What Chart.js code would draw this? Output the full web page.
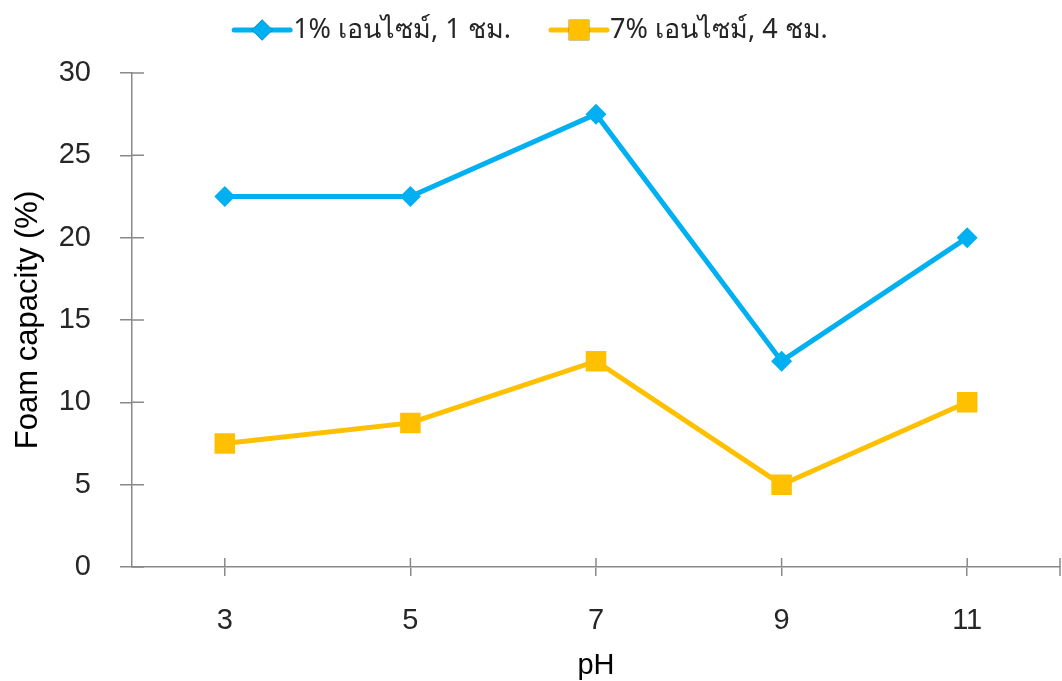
<!DOCTYPE html>
<html>
<head>
<meta charset="utf-8">
<script src="https://cdn.jsdelivr.net/npm/chart.js@4.4.1/dist/chart.umd.min.js"></script>
<style>
  html, body { margin: 0; padding: 0; background: #ffffff; }
  #wrap { width: 1062px; height: 681px; }
</style>
</head>
<body>
<div id="wrap"><canvas id="c" width="1062" height="681"></canvas></div>
<script>
// pH values on the x axis
const phLabels = ['3', '5', '7', '9', '11'];
// Foam capacity (%) for each treatment
const enzyme1Pct1h = [22.5, 22.5, 27.5, 12.5, 20];
const enzyme7Pct4h = [7.5, 8.75, 12.5, 5, 10];
const seriesNames = ['1% เอนไซม์, 1 ชม.', '7% เอนไซม์, 4 ชม.'];
const yMin = 0, yMax = 30, yStep = 5;

const BLUE = '#00B0F0';
const GOLD = '#FFC000';
const AXIS = '#898989';
const TEXT = '#262626';
const TICK_FONT = '"Liberation Sans Narrow", "Liberation Sans", sans-serif';
const TITLE_FONT = '"Liberation Sans", Arial, sans-serif';
const LEGEND_FONT = '"Noto Sans", "DejaVu Sans", sans-serif';

// Tick marks that cross the axis line (the library only draws the outer half)
const crossTicks = {
  id: 'crossTicks',
  beforeDatasetsDraw(chart) {
    const ctx = chart.ctx;
    const x = chart.scales.x, y = chart.scales.y;
    ctx.save();
    ctx.strokeStyle = AXIS;
    ctx.lineWidth = 1.5;
    ctx.beginPath();
    y.ticks.forEach((t, i) => {
      const py = y.getPixelForTick(i);
      ctx.moveTo(y.right, py);
      ctx.lineTo(y.right + 12, py);
    });
    x.ticks.forEach((t, i) => {
      const px = x.getPixelForTick(i);
      ctx.moveTo(px, x.top);
      ctx.lineTo(px, x.top - 9);
    });
    ctx.moveTo(x.right, x.top - 9);
    ctx.lineTo(x.right, x.top + 9);
    ctx.stroke();
    ctx.restore();
  }
};

// Legend row: a short line with the series marker, then the series name
const lineLegend = {
  id: 'lineLegend',
  afterDraw(chart) {
    const ctx = chart.ctx;
    const lineLen = 56, gapText = 3, gapItem = 40, cy = 30;
    ctx.save();
    ctx.font = '27px ' + LEGEND_FONT;
    ctx.textBaseline = 'middle';
    const items = chart.data.datasets.map(ds => ({
      ds, w: ctx.measureText(ds.label).width
    }));
    const total = items.reduce((s, it) => s + lineLen + gapText + it.w, 0) + gapItem * (items.length - 1);
    let x = chart.width / 2 - total / 2;
    items.forEach(({ ds, w }) => {
      ctx.strokeStyle = ds.borderColor;
      ctx.lineWidth = ds.borderWidth;
      ctx.lineCap = 'round';
      ctx.beginPath();
      ctx.moveTo(x, cy);
      ctx.lineTo(x + lineLen, cy);
      ctx.stroke();
      Chart.helpers.drawPoint(ctx, {
        pointStyle: ds.pointStyle,
        radius: ds.pointRadius,
        borderWidth: 0,
        rotation: 0
      }, x + lineLen / 2, cy);
      ctx.fillStyle = ds.backgroundColor;
      ctx.fill();
      ctx.fillStyle = TEXT;
      ctx.fillText(ds.label, x + lineLen + gapText, cy);
      x += lineLen + gapText + w + gapItem;
    });
    ctx.restore();
  }
};

new Chart(document.getElementById('c'), {
  type: 'line',
  data: {
    labels: phLabels,
    datasets: [
      {
        label: seriesNames[0],
        data: enzyme1Pct1h,
        borderColor: BLUE,
        backgroundColor: BLUE,
        borderWidth: 5,
        pointStyle: 'rectRot',
        pointRadius: 10.5,
        pointHoverRadius: 10.5,
        pointBorderWidth: 0,
        tension: 0
      },
      {
        label: seriesNames[1],
        data: enzyme7Pct4h,
        borderColor: GOLD,
        backgroundColor: GOLD,
        borderWidth: 5,
        pointStyle: 'rect',
        pointRadius: 14.5,
        pointHoverRadius: 14.5,
        pointBorderWidth: 0,
        tension: 0
      }
    ]
  },
  options: {
    responsive: false,
    animation: false,
    devicePixelRatio: 1,
    layout: { autoPadding: false, padding: { top: 73, right: 2, left: 0, bottom: 0 } },
    plugins: {
      legend: { display: false },
      tooltip: { enabled: false }
    },
    scales: {
      x: {
        type: 'category',
        offset: true,
        grid: { display: true, offset: false, drawOnChartArea: false, drawTicks: true, tickLength: 9, color: AXIS, lineWidth: 1.5 },
        border: { display: true, color: AXIS, width: 1.5 },
        ticks: { color: TEXT, font: { family: TICK_FONT, size: 29 }, padding: 28, maxRotation: 0 },
        title: { display: true, text: 'pH', color: '#000', font: { family: TITLE_FONT, size: 29 }, padding: { top: 0, bottom: -2 } },
        afterFit(scale) {
          scale.height = 114;
          scale.paddingLeft = 0;
          scale.paddingRight = 0;
        }
      },
      y: {
        min: yMin,
        max: yMax,
        grid: { display: true, drawOnChartArea: false, drawTicks: true, tickLength: 12, color: AXIS, lineWidth: 1.5 },
        border: { display: true, color: AXIS, width: 1.5 },
        ticks: { stepSize: yStep, color: TEXT, font: { family: TICK_FONT, size: 29 }, padding: 29 },
        title: { display: true, text: 'Foam capacity (%)', color: '#000', font: { family: TITLE_FONT, size: 31 }, padding: { top: 10, bottom: 0 } },
        afterFit(scale) { scale.width = 132; }
      }
    }
  },
  plugins: [crossTicks, lineLegend]
});
</script>
</body>
</html>
